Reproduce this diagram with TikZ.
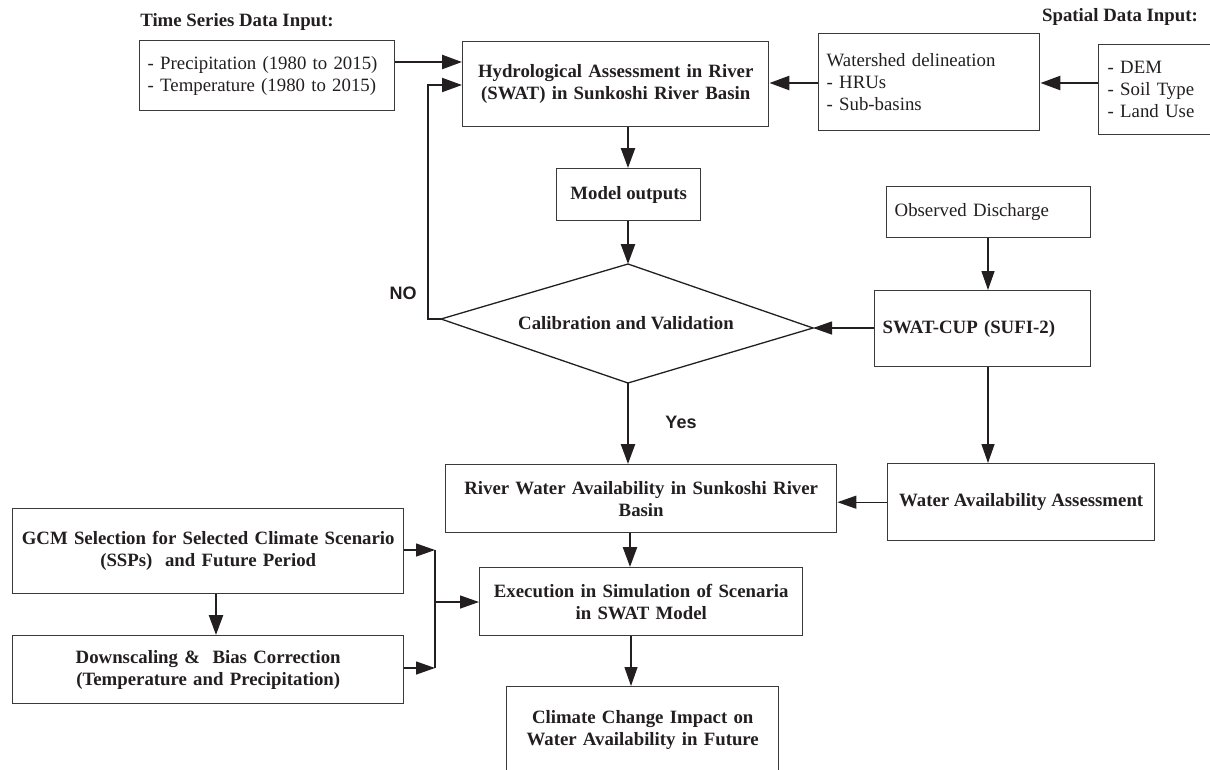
\documentclass[tikz,border=0pt]{standalone}
\usepackage{fontspec}
\setmainfont{Liberation Serif}
\newfontfamily\labsans{Liberation Sans}
\usetikzlibrary{arrows.meta,calc}
\definecolor{boxc}{HTML}{3A3A3A}
\definecolor{inkc}{HTML}{231F20}
\begin{document}
\begin{tikzpicture}[x=1pt,y=-1pt,
  every node/.style={font=\fontsize{18.8}{22}\selectfont, text=inkc},
  box/.style={draw=boxc, line width=1.4pt, fill=white, inner sep=0pt, anchor=north west, align=center},
  bf/.style={font=\fontsize{18.8}{22}\selectfont\bfseries},
  heavy/.style={draw=inkc, line width=2.5pt, -{Triangle[length=20pt,width=14pt]}},
  light/.style={draw=inkc, line width=1.3pt, -{Triangle[length=19pt,width=13pt]}},
  plain/.style={draw=inkc, line width=1.3pt},
  lab/.style={font=\fontsize{18}{20}\selectfont\labsans\bfseries}
]
\useasboundingbox (0,0) rectangle (1210,769);
\clip (0,0) rectangle (1210,769);

% titles
\node[bf] (tst) at (237,22) {Time Series Data Input:};
\node[bf] (spt) at (1120,17) {Spatial Data Input:};

% top row
\node[box, minimum width=255, minimum height=70, text width=239, align=left] (ts) at (139,40)
  {- Precipitation (1980 to 2015)\\- Temperature (1980 to 2015)};
\node[box, bf, minimum width=306, minimum height=85, text width=300] (hyd) at (462,41)
  {Hydrological Assessment in River\\(SWAT) in Sunkoshi River Basin};
\node[box, minimum width=221, minimum height=97, text width=205, align=left] (ws) at (818,33)
  {Watershed delineation\\- HRUs\\- Sub-basins};
\node[box, minimum width=130, minimum height=90, text width=112, align=left] (dem) at (1098,44)
  {- DEM\\- Soil Type\\- Land Use};

\node[box, bf, minimum width=144, minimum height=52] (mo) at (556,168) {Model outputs};

% diamond
\coordinate (dt) at (628,264);
\coordinate (dr) at (813,328);
\coordinate (db) at (628,383);
\coordinate (dl) at (441,319);
\draw[draw=inkc, line width=1.3pt] (dt) -- (dr) -- (db) -- (dl) -- cycle;
\node[bf] (cal) at (626,323) {Calibration and Validation};

% right column
\node[box, minimum width=204, minimum height=51, text width=188, align=left] (obs) at (886,186)
  {Observed Discharge};
\node[box, bf, minimum width=216, minimum height=76, text width=200, align=left] (cup) at (874,290)
  {SWAT-CUP (SUFI-2)};
\node[box, bf, minimum width=267, minimum height=77] (waa) at (887,463)
  {Water Availability Assessment};

% middle
\node[box, bf, minimum width=391, minimum height=68, text width=385] (riv) at (445,464)
  {River Water Availability in Sunkoshi River\\Basin};
\node[box, bf, minimum width=323, minimum height=68, text width=315] (exe) at (479,567)
  {Execution in Simulation of Scenaria\\in SWAT Model};
\node[box, bf, minimum width=272, minimum height=87, text width=265] (clim) at (506,686)
  {Climate Change Impact on\\Water Availability in Future};

% left bottom
\node[box, bf, minimum width=391, minimum height=85, text width=385] (gcm) at (12,508)
  {GCM Selection for Selected Climate Scenario\\(SSPs)~ and Future Period};
\node[box, bf, minimum width=391, minimum height=68, text width=385] (ds) at (12,635)
  {Downscaling \&~ Bias Correction\\(Temperature and Precipitation)};

% labels
\node[lab] (no) at (403,293) {NO};
\node[lab] (yes) at (681,422) {Yes};

% connectors top
\draw[heavy] (ts.east |- 0,62) -- (hyd.west |- 0,62);
\draw[heavy, line width=2pt] (dl) -- ++(-13,0) |- (hyd.west |- 0,85);
\draw[heavy] (ws.west |- 0,83) -- (hyd.east |- 0,83);
\draw[heavy] (dem.west |- 0,83) -- (ws.east |- 0,83);
\draw[heavy] (hyd.south -| dt) -- (mo.north -| dt);
\draw[heavy] (mo.south -| dt) -- (dt);
\draw[heavy] (db) -- (riv.north -| db);

% right column connectors
\draw[light] (obs.south -| 988,0) -- (cup.north -| 988,0);
\draw[light] (cup.west |- dr) -- (dr);
\draw[light] (cup.south -| 988,0) -- (waa.north -| 988,0);
\draw[light] (waa.west) -- (riv.east |- waa.west);

% lower connectors
\draw[heavy] (riv.south -| 630,0) -- (exe.north -| 630,0);
\draw[light] (exe.south -| 631,0) -- (clim.north -| 631,0);
\draw[heavy] (gcm.south -| 216,0) -- (ds.north -| 216,0);

\coordinate (j1) at (435,550);
\coordinate (j2) at (435,668);
\coordinate (j3) at (435,602);
\draw[light] (gcm.east |- j1) -- (j1);
\draw[light] (ds.east |- j2) -- (j2);
\draw[plain] (j1) -- (j2);
\draw[light] (j3) -- (exe.west |- j3);
\end{tikzpicture}
\end{document}
